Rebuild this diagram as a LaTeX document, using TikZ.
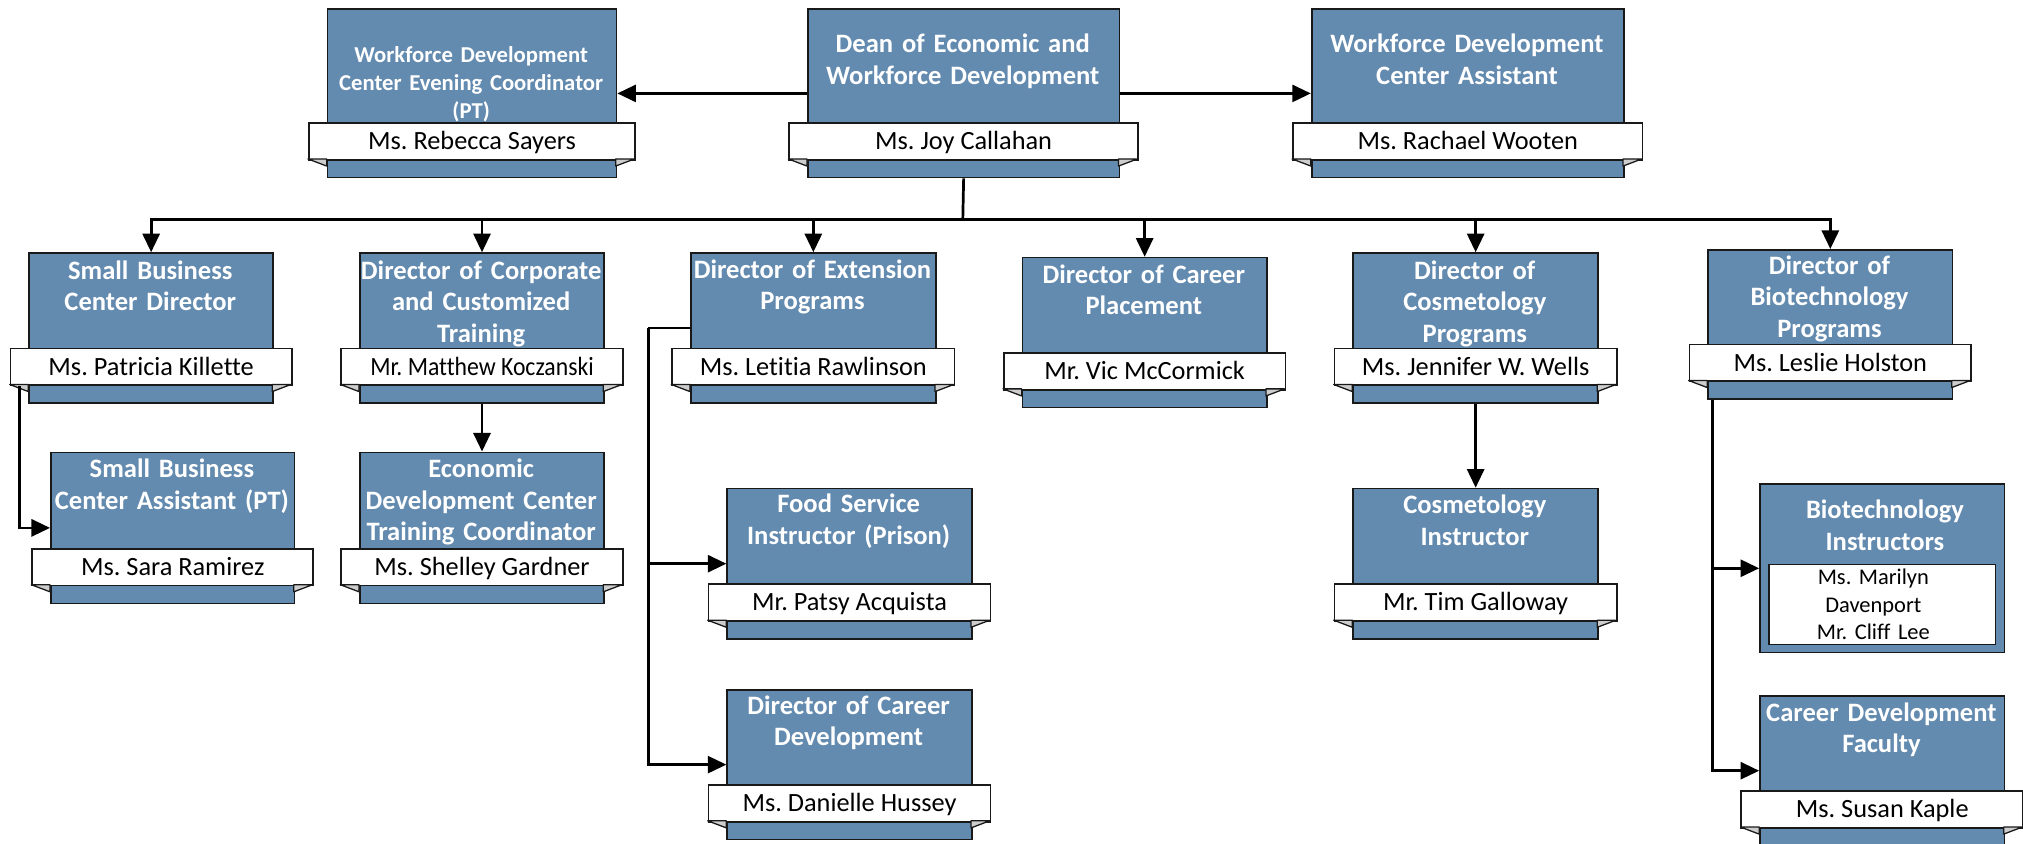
\documentclass[tikz,border=0pt]{standalone}
\usepackage{fontspec}
\setmainfont{Carlito}[Ligatures=NoCommon]
\frenchspacing
\usetikzlibrary{arrows.meta}
\definecolor{boxblue}{RGB}{99,138,175}
\definecolor{foldgray}{RGB}{205,205,205}
\tikzset{
  bluebox/.style={draw=black!90, line width=0.65pt, fill=boxblue, inner sep=0pt},
  band/.style={draw=black!90, line width=0.65pt, fill=white, inner sep=0pt, minimum height=14.25pt,
    text height=0.63em, text depth=0pt, font=\fontsize{10.2pt}{12pt}\selectfont},
  fold/.style={draw=black!90, line width=0.5pt, fill=foldgray, line join=round},
  titletext/.style={text=white, font=\bfseries\fontsize{10.3pt}{12.25pt}\selectfont, align=center, inner sep=0pt},
  evtitle/.style={font=\bfseries\fontsize{8.8pt}{10.85pt}\selectfont},
  conn/.style={line width=1.05pt, draw=black},
  arr/.style={conn, -{Triangle[length=7.2pt,width=6.6pt]}},
}
% #1 title style, #2 name, #3 left, #4 right, #5 top, #6 bottom, #7 first title line y, #8 title, #9 person
\newcommand{\rbox}[9][]{%
  \node[bluebox, anchor=north west, minimum width={(#4-#3)*0.5pt}, minimum height={(#6-#5)*0.5pt}] (#2) at (#3,#5) {};
  \node[band, anchor=north west, minimum width={(#4-#3+29)*0.5pt}] (#2n) at (#3-14.5,#6-42.3) {#9};
  \draw[fold] (#3-14.5,#6-13.8) -- (#3,#6-13.8) -- (#3,#6-8.3) -- cycle;
  \draw[fold] (#4+14.5,#6-13.8) -- (#4,#6-13.8) -- (#4,#6-8.3) -- cycle;
  \node[titletext, #1, anchor=north, text width={(#4-#3+40)*0.5pt}] (#2t) at ({(#3+#4)/2},#7-10.5) {\strut #8};
}
\begin{document}
\begin{tikzpicture}[x=0.5pt,y=-0.5pt]
\useasboundingbox (0,0) rectangle (1568,654);
% top row
\rbox[evtitle]{evening}{253.2}{477.2}{6.5}{137}{43.5}{Workforce Development\\Center Evening Coordinator\\(PT)}{Ms. Rebecca Sayers}
\rbox{dean}{625.5}{867}{6.5}{137}{33.6}{Dean of Economic and\\Workforce Development}{Ms. Joy Callahan}
\rbox{assist}{1016}{1258}{6.5}{137}{33.6}{Workforce Development\\Center Assistant}{Ms. Rachael Wooten}
% second row
\rbox{sbd}{22}{211}{195.5}{311.8}{209.3}{Small Business\\Center Director}{Ms. Patricia Killette}
\rbox{corp}{278.3}{467.6}{195.5}{311.8}{209.3}{Director of Corporate\\and Customized\\Training}{\scalebox{0.9}[1]{Mr. Matthew Koczanski}}
\rbox{ext}{534.8}{724.7}{195.5}{311.8}{208.7}{Director of Extension\\Programs}{Ms. Letitia Rawlinson}
\rbox{place}{791.9}{981.2}{199}{315.2}{212.4}{Director of Career\\Placement}{Mr. Vic McCormick}
\rbox{cosm}{1048.2}{1238}{195.5}{311.8}{209.3}{Director of\\Cosmetology\\Programs}{Ms. Jennifer W. Wells}
\rbox{bio}{1323.3}{1512.7}{193}{308.7}{205.5}{Director of\\Biotechnology\\Programs}{Ms. Leslie Holston}
% third row
\rbox{sba}{38.8}{227.7}{350}{467}{363}{Small Business\\Center Assistant (PT)}{Ms. Sara Ramirez}
\rbox{edc}{278.3}{467.6}{350}{467}{363}{Economic\\Development Center\\Training Coordinator}{Ms. Shelley Gardner}
\rbox{food}{563}{752.6}{378}{494.5}{390.1}{Food Service\\Instructor (Prison)}{Mr. Patsy Acquista}
\rbox{ccd}{563}{752.6}{534}{650}{546.4}{Director of Career\\Development}{Ms. Danielle Hussey}
\rbox{cinst}{1048.2}{1238}{378}{494.5}{391}{Cosmetology\\Instructor}{Mr. Tim Galloway}
\rbox{cdf}{1363.5}{1553}{538.6}{654.8}{552}{Career Development\\Faculty}{Ms. Susan Kaple}
% biotechnology instructors
\node[bluebox, anchor=north west, minimum width={(1553-1363.5)*0.5pt}, minimum height={(505-374.6)*0.5pt}] (binst) at (1363.5,374.6) {};
\node[draw=black!90, line width=0.65pt, fill=white, anchor=north west, inner sep=0pt,
  minimum width={(1546-1370.5)*0.5pt}, minimum height={(499-437)*0.5pt}] (binstn) at (1370.5,437) {};
\node[titletext, anchor=north, text width=110pt] (binstt) at (1461,384.5) {\strut Biotechnology\\Instructors};
\node[anchor=north, align=center, inner sep=0pt, text width=80pt, font=\fontsize{8.7pt}{10.75pt}\selectfont] (binstp) at (1452,437.5) {\strut Ms. Marilyn\\Davenport\\Mr. Cliff Lee};
% connectors
\coordinate (bus) at (746.25,170.3);
\draw[arr] (dean.west) -- (evening.east);
\draw[arr] (dean.east) -- (assist.west);
\draw[conn] (dean.south) -- (bus);
\foreach \n in {sbd,corp,ext,place,cosm,bio} \draw[arr] (bus) -| (\n.north);
\draw[arr] (corp.south) -- (edc.north);
\draw[arr] (cosm.south) -- (cinst.north);
\draw[arr] ([xshift=3.75pt]sbdn.south west) |- (sba.west);
\path (ext.west) -- ++(-32.3,0) coordinate (extj);
\draw[conn] (ext.west) -- (extj);
\draw[arr] (extj) |- (food.west);
\draw[arr] (extj) |- (ccd.west);
\draw[arr] ([xshift=1.95pt]bio.south west) |- (binst.west);
\draw[arr] ([xshift=1.95pt]bio.south west) |- (cdf.west);
\end{tikzpicture}
\end{document}
